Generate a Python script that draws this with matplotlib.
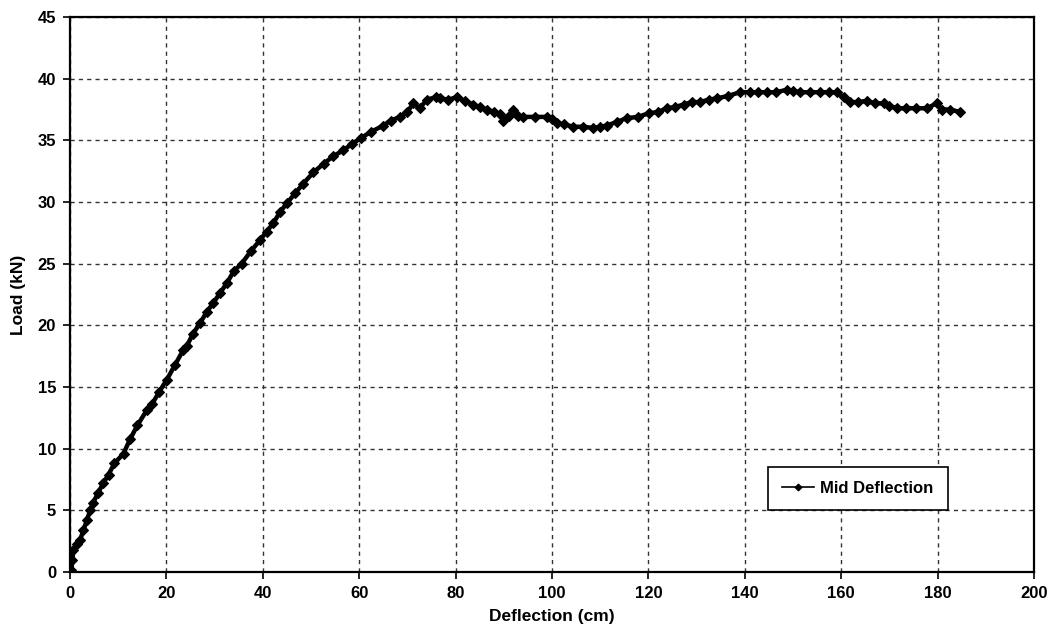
import matplotlib
matplotlib.use("Agg")
import matplotlib.pyplot as plt

plt.rcParams['font.family'] = ['Liberation Sans', 'DejaVu Sans']

deflection = [0, 0.3, 0.5, 0.7, 1.5, 2.1, 2.8, 3.5, 4.2, 4.8, 5.8, 6.9, 8.0, 9.2,
              11.1, 12.5, 14.0, 15.9, 17.0, 18.5, 20.1, 21.8, 23.5, 24.2, 25.5,
              27.0, 28.4, 29.7, 31.1, 32.5, 34.0, 35.6, 37.5, 39.4, 40.8, 42.2,
              43.6, 45.0, 46.7, 48.4, 50.5, 52.6, 54.6, 56.7, 58.5, 60.4, 62.5,
              65.0, 66.5, 68.5, 70.0, 71.2, 72.6, 74.0, 76.0, 76.8, 78.5, 80.2,
              82.0, 83.7, 85.0, 86.5, 88.0, 89.2, 89.9, 91.0, 92.0, 93.0, 94.0,
              96.5, 98.9, 100.0, 101.0, 102.5, 104.4, 106.5, 108.6, 110.0, 111.4,
              113.5, 115.5, 117.8, 120.1, 122.0, 123.8, 125.5, 127.3, 129.0,
              130.7, 132.5, 134.2, 136.5, 139.0, 141.0, 142.8, 144.6, 146.5,
              148.7, 150.0, 151.5, 153.5, 155.5, 157.5, 159.1, 160.5, 161.9,
              163.5, 165.3, 167.0, 168.8, 170.0, 171.5, 173.5, 175.5, 177.8,
              179.8, 180.9, 182.5, 184.7]
load = [0, 0.2, 1.0, 1.8, 2.3, 2.6, 3.4, 4.2, 5.0, 5.6, 6.4, 7.2, 7.9, 8.8,
        9.6, 10.8, 11.9, 13.1, 13.6, 14.6, 15.6, 16.8, 18.0, 18.3, 19.3,
        20.2, 21.1, 21.8, 22.6, 23.4, 24.4, 25.0, 26.0, 26.9, 27.6, 28.3,
        29.2, 29.9, 30.7, 31.5, 32.4, 33.1, 33.7, 34.2, 34.7, 35.2, 35.7,
        36.2, 36.6, 36.9, 37.3, 38.0, 37.6, 38.3, 38.5, 38.4, 38.3, 38.5,
        38.2, 37.9, 37.7, 37.5, 37.3, 37.1, 36.6, 37.0, 37.5, 37.0, 36.9,
        36.9, 36.9, 36.7, 36.4, 36.3, 36.1, 36.1, 36.0, 36.1, 36.2,
        36.5, 36.8, 36.9, 37.2, 37.3, 37.6, 37.7, 37.9, 38.1,
        38.1, 38.3, 38.4, 38.6, 38.9, 38.9, 38.9, 38.9, 38.9,
        39.1, 39.0, 38.9, 38.9, 38.9, 38.9, 38.9, 38.5, 38.1,
        38.1, 38.2, 38.0, 38.0, 37.8, 37.6, 37.6, 37.6, 37.6,
        38.0, 37.5, 37.5, 37.3]

x_ticks = [0, 20, 40, 60, 80, 100, 120, 140, 160, 180, 200]
y_ticks = [0, 5, 10, 15, 20, 25, 30, 35, 40, 45]

fig = plt.figure(figsize=(10.53, 6.44), dpi=100)
ax = fig.add_axes([70/1053, 72/644, 964/1053, 555/644])

ax.plot(deflection, load, color='black', linewidth=3.2, marker='D',
        markersize=5, markeredgewidth=0.8, label='Mid Deflection', zorder=3)

ax.set_xlim(0, 200)
ax.set_ylim(0, 45)
ax.set_xticks(x_ticks)
ax.set_yticks(y_ticks)
ax.grid(True, color='#333333', linestyle=(0, (3, 3)), linewidth=1.0)
ax.set_axisbelow(True)

for s in ax.spines.values():
    s.set_linewidth(1.6)
    s.set_color('black')

ax.tick_params(direction='out', length=5, width=1.2, labelsize=12, pad=5)
for lbl in ax.get_xticklabels() + ax.get_yticklabels():
    lbl.set_fontweight('bold')

ax.set_xlabel('Deflection (cm)', fontsize=12.5, fontweight='bold', labelpad=6)
ax.set_ylabel('Load (kN)', fontsize=12.5, fontweight='bold', labelpad=8)

leg = ax.legend(loc='upper left', bbox_to_anchor=(0.724, 0.190),
                borderaxespad=0, fancybox=False, edgecolor='black', framealpha=1,
                handlelength=1.9, handletextpad=0.4, borderpad=0.85,
                markerscale=0.7, prop={'size': 12, 'weight': 'semibold'})
leg.get_frame().set_linewidth(1.2)
for h in leg.legend_handles:
    h.set_linewidth(1.2)

fig.savefig('out.png', dpi=100)
